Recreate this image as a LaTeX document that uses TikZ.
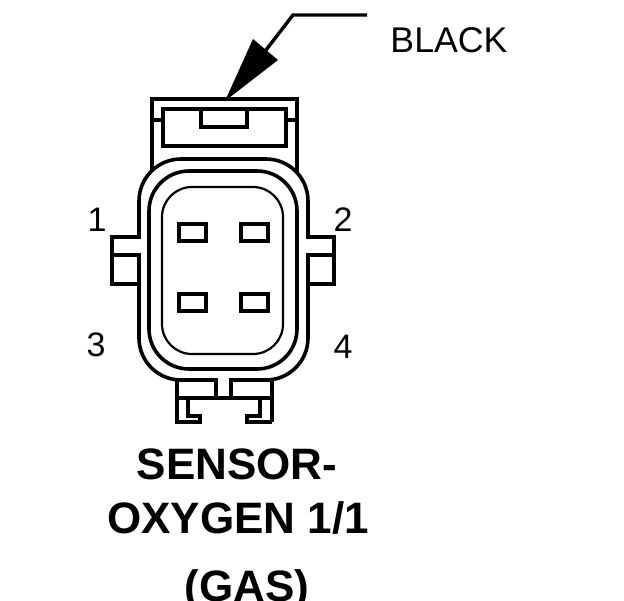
\documentclass[tikz,border=0pt]{standalone}
\usepackage{fontspec}
\setmainfont{Liberation Sans}
\tikzset{
  pinlabel/.style={font=\fontsize{34}{34}\selectfont},
  titlelabel/.style={font=\fontsize{44}{44}\selectfont\bfseries},
  wall/.style={line width=3.6pt},
  seal/.style={line width=2.2pt},
  pinbox/.style={line width=3.6pt}
}
\begin{document}
\begin{tikzpicture}[x=1pt,y=-1pt]
\useasboundingbox (0,0) rectangle (624,600);

% leader and arrow
\coordinate (elbow) at (293,15);
\coordinate (leaderend) at (367,15);
\coordinate (shaftend) at (266,50);
\draw[line width=3.4pt] (leaderend) -- (elbow) -- (shaftend);
\fill (225,101) -- (253,39) -- (278,60) -- cycle;
\node (black) at (449,40) [font=\fontsize{35.7}{36}\selectfont]{BLACK};

% latch housing
\draw[wall] (152,172) -- (152,99) -- (297,99) -- (297,172);
\draw[wall] (163,109) rectangle (286,146);
\draw[wall] (201,109) -- (201,127) -- (247,127) -- (247,109);
\draw[wall] (152,120) -- (163,120);
\draw[wall] (286,120) -- (297,120);

% body
\draw[wall,fill=white,rounded corners=42pt] (139,159) rectangle (308,380);
\draw[wall,rounded corners=40pt] (149,171) rectangle (297,369);
\draw[seal,rounded corners=30pt] (162,187) rectangle (283,354);

% openings in the outer wall
\fill[white] (137,239) rectangle (141,253);
\fill[white] (306,239) rectangle (310,253);
\fill[white] (218,378) rectangle (229,382);

% pins
\draw[pinbox] (179,224) rectangle (206,241);
\draw[pinbox] (241,224) rectangle (268,241);
\draw[pinbox] (179,294) rectangle (206,311);
\draw[pinbox] (241,294) rectangle (268,311);

% side tabs
\draw[wall] (139,237) -- (112,237) -- (112,284) -- (140,284);
\draw[wall] (112,255) -- (139,255);
\draw[wall] (308,237) -- (334,237) -- (334,284) -- (308,284);
\draw[wall] (308,255) -- (336,255);

% bottom tabs
\draw[wall] (216,398) -- (216,380) -- (177,380) -- (177,422);
\draw[wall] (231,398) -- (231,380) -- (272,380) -- (272,422);
\draw[wall] (177,398) -- (273,398);
\draw[wall] (175,422) -- (200,422) -- (200,416) -- (188,416) -- (188,398);
\draw[wall] (272,422) -- (247,422) -- (247,416) -- (260,416) -- (260,398);

\node[pinlabel] (one) at (97,220){1};
\node[pinlabel] (two) at (343,220){2};
\node[pinlabel] (three) at (96,345){3};
\node[pinlabel] (four) at (343,347){4};

\node[titlelabel] (sensor) at (237,464){SENSOR-};
\node[titlelabel] (oxygen) at (238,518){OXYGEN 1/1};
\node[titlelabel] (gas) at (247,590){(GAS)};
\end{tikzpicture}
\end{document}
